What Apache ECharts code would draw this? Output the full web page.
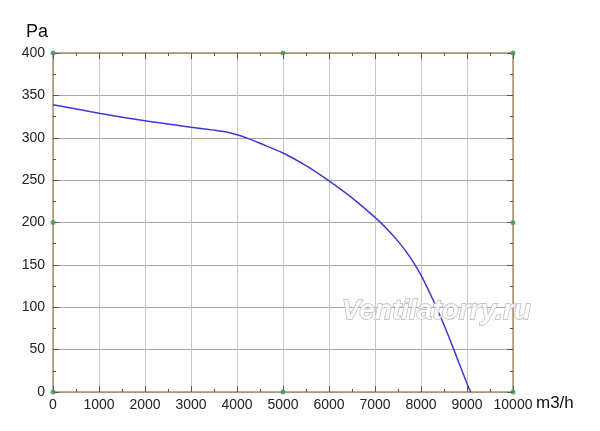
<!DOCTYPE html>
<html><head><meta charset="utf-8">
<script src="https://cdn.jsdelivr.net/npm/echarts@6/dist/echarts.min.js"></script>
<style>html,body{margin:0;padding:0;background:#fff}#c{width:600px;height:431px}</style>
</head><body><div id="c"></div>
<script>
const flow = [0, 1000, 2000, 3000, 3500, 3750, 4000, 4250, 4500, 5000, 5500, 6000, 6500, 7000, 7250, 7500, 7750, 8000, 8250, 8500, 8750, 9000, 9080];
const pressure = [339, 329, 320, 312.5, 309, 307, 303.5, 299, 293.5, 282, 267, 249, 229, 206, 193, 178, 160, 138, 110, 79, 45, 10, 0];
const markerX = [0, 5000, 10000, 0, 10000, 0, 5000, 10000];
const markerY = [400, 400, 400, 200, 200, 0, 0, 0];

const axisCol = '#a8906a';
const font = 'Liberation Sans, Arial, sans-serif';
const chart = echarts.init(document.getElementById('c'));
function common() {
  return {
    axisLine: {show: true, onZero: false, lineStyle: {color: axisCol, width: 1.5}},
    axisTick: {show: true, inside: true, length: 6, lineStyle: {color: '#555', width: 1}},
    minorTick: {show: true, splitNumber: 2, length: 3, lineStyle: {color: '#555'}},
  };
}
chart.setOption({
  animation: false,
  backgroundColor: '#fff',
  grid: {left: 53, right: 87, top: 53, bottom: 39, containLabel: false},
  xAxis: [
    Object.assign({type: 'value', min: 0, max: 10000, interval: 1000, position: 'bottom',
      axisLabel: {color: '#222', fontSize: 14, fontFamily: font, margin: 6, formatter: v => String(v)},
      splitLine: {show: true, lineStyle: {color: '#c8c8c8', width: 1}}}, common()),
    Object.assign({type: 'value', min: 0, max: 10000, interval: 1000, position: 'top',
      axisLabel: {show: false}, splitLine: {show: false}}, common())
  ],
  yAxis: [
    Object.assign({type: 'value', min: 0, max: 400, interval: 50, position: 'left',
      axisLabel: {color: '#222', fontSize: 14, fontFamily: font, margin: 8},
      splitLine: {show: true, lineStyle: {color: '#a8a8a8', width: 1}}}, common()),
    Object.assign({type: 'value', min: 0, max: 400, interval: 50, position: 'right',
      axisLabel: {show: false}, splitLine: {show: false}}, common())
  ],
  graphic: [
    {type: 'text', left: 26, top: 23, style: {text: 'Pa', fontSize: 18, fontFamily: font, fill: '#111'}},
    {type: 'text', left: 536, top: 395, style: {text: 'm3/h', fontSize: 17, fontFamily: font, fill: '#111'}},
    {type: 'text', left: 341, top: 297, z: 100, style: {text: 'Ventilatorry.ru', fontSize: 28, fontStyle: 'italic', fontWeight: 'bold', fontFamily: font, fill: 'rgba(255,255,255,0.85)', stroke: '#b8b8b8', lineWidth: 1.3}}
  ],
  series: [
    {type: 'line', data: flow.map((f, i) => [f, pressure[i]]), smooth: 0.3, symbol: 'none',
      lineStyle: {color: '#3a3ad8', width: 1.5}, z: 5},
    {type: 'scatter', data: markerX.map((x, i) => [x, markerY[i]]), symbolSize: 5,
      itemStyle: {color: '#3a9a5a'}, z: 10}
  ]
});
</script></body></html>
